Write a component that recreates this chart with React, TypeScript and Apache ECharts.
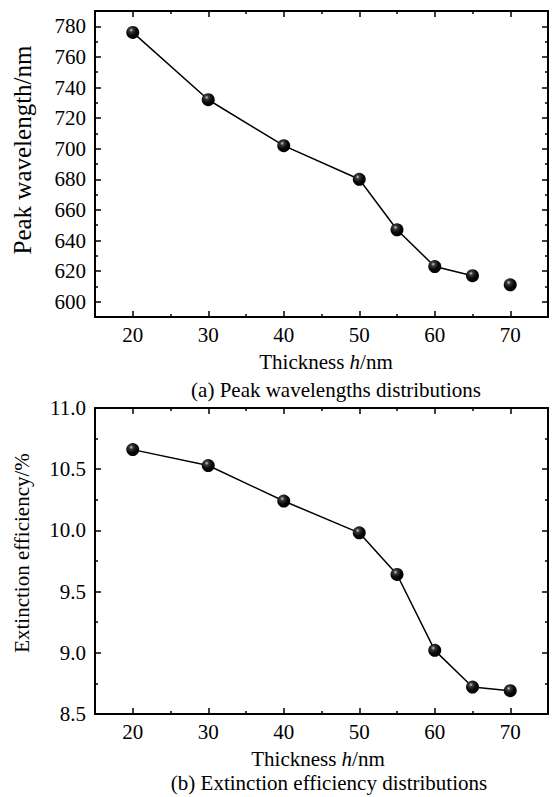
import React, { useEffect, useRef } from "react";
import * as echarts from "echarts";

// ---- data ----
const thickness = [20, 30, 40, 50, 55, 60, 65, 70];
const peakWavelength = [776, 732, 702, 680, 647, 623, 617, 611];
const peakConnectedCount = 7; // line joins the first 7 points only
const extinctionEfficiency = [10.66, 10.53, 10.24, 9.98, 9.64, 9.02, 8.72, 8.69];

const xMajorTicks = [20, 30, 40, 50, 60, 70];
const xMinorTicks = [25, 35, 45, 55, 65];
const peakMajorTicks = [600, 620, 640, 660, 680, 700, 720, 740, 760, 780];
const peakMinorTicks = [610, 630, 650, 670, 690, 710, 730, 750, 770];

const xTitleParts = ["Thickness ", "h", "/nm"];
const yTitleA = "Peak wavelength/nm";
const yTitleB = "Extinction efficiency/%";
const captionA = "(a) Peak wavelengths distributions";
const captionB = "(b) Extinction efficiency distributions";

const FONT = "'Liberation Serif', 'Times New Roman', serif";
const TICK_FS = 21;
const lineStyle = { color: "#000", width: 2 };

function xAx(grid: number, pos: string, ticks: number[], major: boolean, labels: boolean, showLine: boolean) {
  return {
    type: "value",
    gridIndex: grid,
    position: pos,
    min: 15,
    max: 75,
    axisLine: { show: showLine, onZero: false, lineStyle },
    axisTick: {
      show: true,
      inside: true,
      length: major ? 6 : 3,
      customValues: ticks,
      lineStyle: { color: "#000", width: 1.5 },
    },
    axisLabel: labels
      ? { show: true, customValues: ticks, color: "#000", fontFamily: FONT, fontSize: TICK_FS, margin: 7 }
      : { show: false },
    splitLine: { show: false },
  };
}

function yAxA(pos: string, ticks: number[], major: boolean, labels: boolean, showLine: boolean) {
  return {
    type: "value",
    gridIndex: 0,
    position: pos,
    min: 590,
    max: 790,
    axisLine: { show: showLine, onZero: false, lineStyle },
    axisTick: {
      show: true,
      inside: true,
      length: major ? 6 : 3,
      customValues: ticks,
      lineStyle: { color: "#000", width: 1.5 },
    },
    axisLabel: labels
      ? { show: true, customValues: ticks, color: "#000", fontFamily: FONT, fontSize: TICK_FS, margin: 9 }
      : { show: false },
    splitLine: { show: false },
  };
}

function yAxB(pos: string, labels: boolean) {
  return {
    type: "value",
    gridIndex: 1,
    position: pos,
    min: 8.5,
    max: 11.0,
    interval: 0.5,
    axisLine: { show: true, onZero: false, lineStyle },
    axisTick: { show: true, inside: true, length: 6, lineStyle: { color: "#000", width: 1.5 } },
    minorTick: { show: true, splitNumber: 2, length: 3, lineStyle: { color: "#000", width: 1.5 } },
    axisLabel: labels
      ? { show: true, color: "#000", fontFamily: FONT, fontSize: TICK_FS, margin: 9, formatter: (v: number) => v.toFixed(1) }
      : { show: false },
    splitLine: { show: false },
    minorSplitLine: { show: false },
  };
}

const sphere = () =>
  new echarts.graphic.RadialGradient(0.38, 0.32, 0.75, [
    { offset: 0, color: "#d0d0d0" },
    { offset: 0.2, color: "#3a3a3a" },
    { offset: 0.55, color: "#080808" },
    { offset: 1, color: "#000" },
  ]);

function textEl(x: number, y: number, text: string, size: number, rotation = 0) {
  return {
    type: "text",
    x,
    y,
    rotation,
    style: {
      text,
      fill: "#000",
      font: `${size}px ${FONT}`,
      textAlign: "center",
      textVerticalAlign: "middle",
    },
  };
}

function xTitle(x: number, y: number) {
  return {
    type: "text",
    x,
    y,
    style: {
      text: `{n|${xTitleParts[0]}}{i|${xTitleParts[1]}}{n|${xTitleParts[2]}}`,
      textAlign: "center",
      textVerticalAlign: "middle",
      rich: {
        n: { fontFamily: FONT, fontSize: 21, fill: "#000", color: "#000" },
        i: { fontFamily: FONT, fontSize: 21, fontStyle: "italic", fill: "#000", color: "#000" },
      },
    },
  };
}

export default function App() {
  const ref = useRef<HTMLDivElement>(null);
  useEffect(() => {
    document.body.style.margin = "0";
    const chart = echarts.init(ref.current!, null, { renderer: "svg" });
    const pairsA = thickness.map((t, i) => [t, peakWavelength[i]]);
    const pairsB = thickness.map((t, i) => [t, extinctionEfficiency[i]]);
    chart.setOption({
      animation: false,
      backgroundColor: "#fff",
      grid: [
        { left: 95, top: 11, width: 453, height: 306 },
        { left: 95, top: 408, width: 453, height: 306 },
      ],
      xAxis: [
        xAx(0, "bottom", xMajorTicks, true, true, true),
        xAx(0, "bottom", xMinorTicks, false, false, false),
        xAx(0, "top", xMajorTicks, true, false, true),
        xAx(0, "top", xMinorTicks, false, false, false),
        xAx(1, "bottom", xMajorTicks, true, true, true),
        xAx(1, "bottom", xMinorTicks, false, false, false),
        xAx(1, "top", xMajorTicks, true, false, true),
        xAx(1, "top", xMinorTicks, false, false, false),
      ],
      yAxis: [
        yAxA("left", peakMajorTicks, true, true, true),
        yAxA("left", peakMinorTicks, false, false, false),
        yAxA("right", peakMajorTicks, true, false, true),
        yAxA("right", peakMinorTicks, false, false, false),
        yAxB("left", true),
        yAxB("right", false),
      ],
      series: [
        {
          type: "line",
          xAxisIndex: 0,
          yAxisIndex: 0,
          data: pairsA.slice(0, peakConnectedCount),
          showSymbol: false,
          lineStyle: { color: "#000", width: 1.5 },
          z: 2,
        },
        {
          type: "scatter",
          xAxisIndex: 0,
          yAxisIndex: 0,
          data: pairsA,
          symbolSize: 13,
          itemStyle: { color: sphere(), opacity: 1 },
          z: 3,
        },
        {
          type: "line",
          xAxisIndex: 4,
          yAxisIndex: 4,
          data: pairsB,
          showSymbol: false,
          lineStyle: { color: "#000", width: 1.5 },
          z: 2,
        },
        {
          type: "scatter",
          xAxisIndex: 4,
          yAxisIndex: 4,
          data: pairsB,
          symbolSize: 13,
          itemStyle: { color: sphere(), opacity: 1 },
          z: 3,
        },
      ],
      graphic: [
        textEl(22, 150, yTitleA, 25, Math.PI / 2),
        textEl(22, 553, yTitleB, 21, Math.PI / 2),
        xTitle(326, 362),
        xTitle(318, 759),
        textEl(336, 390, captionA, 21),
        textEl(329, 783, captionB, 21),
      ],
    });
    return () => chart.dispose();
  }, []);
  return <div ref={ref} style={{ width: 554, height: 797 }} />;
}
